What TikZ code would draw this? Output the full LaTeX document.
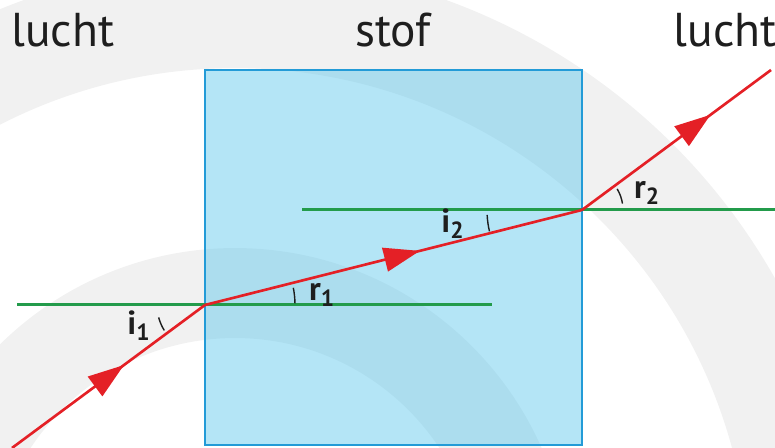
\documentclass[tikz,border=0pt]{standalone}
\usepackage{fontspec}
\setmainfont{PT Sans}
\usetikzlibrary{arrows.meta,decorations.markings}

\definecolor{fondgris}{RGB}{241,241,241}
\definecolor{stofblauw}{RGB}{96,200,236}
\definecolor{randblauw}{RGB}{35,155,215}
\definecolor{straalrood}{RGB}{228,32,38}
\definecolor{normgroen}{RGB}{35,155,75}
\definecolor{tekst}{RGB}{30,30,30}

\tikzset{
  ray/.style={draw=straalrood, line width=1.5pt, postaction={decorate},
    decoration={markings, mark=at position #1 with
      {\arrow{Triangle[length=0.72cm, width=0.48cm]}}}},
  normline/.style={draw=normgroen, line width=1.7pt},
  anglearc/.style={draw=tekst, line width=0.8pt},
  medium/.style={text=tekst, font=\fontsize{27}{30}\selectfont, anchor=base},
  hoeklabel/.style={text=tekst, font=\fontsize{19}{22}\selectfont\bfseries, inner sep=0pt}
}

\begin{document}
\begin{tikzpicture}[x=0.02cm, y=0.02cm]

\useasboundingbox (0,0) rectangle (775,448);

% Achtergrond
\begin{scope}
\clip (0,0) rectangle (775,448);
\fill[fondgris, even odd rule]
(235,-135) circle (12.4cm)
(235,-135) circle (10.3cm);
\fill[fondgris, even odd rule]
(235,-135) circle (6.7cm)
(235,-135) circle (4.9cm);
\end{scope}

% Stof
\draw[randblauw, line width=1.4pt, fill=stofblauw, fill opacity=0.47]
(205,3)
rectangle
(582,378);

\node[medium] (luchtL) at (63,401) {lucht};
\node[medium] (stof) at (393,401) {stof};
\node[medium] (luchtR) at (725,401) {lucht};

% Punten
\coordinate (S) at (12,0);
\coordinate (P1) at (205,143);
\coordinate (P2) at (582,238);
\coordinate (E) at (771,378);

\coordinate (N1a) at (17,143);
\coordinate (N1b) at (492,143);
\coordinate (N2a) at (302,238);
\coordinate (N2b) at (775,238);

% Normalen
\draw[normline]
(N1a)
--
(N1b);

\draw[normline]
(N2a)
--
(N2b);

% Lichtstraal
\draw[ray=0.58]
(S)
--
(P1);

\draw[ray=0.57]
(P1)
--
(P2);

\draw[ray=0.68]
(P2)
--
(E);

% Hoeken
\draw[anglearc] (P1) ++(195:0.96cm) arc[start angle=195, end angle=212, radius=0.96cm];
\draw[anglearc] (P1) ++(1:1.8cm) arc[start angle=1, end angle=11, radius=1.8cm];
\draw[anglearc] (P2) ++(183:1.9cm) arc[start angle=183, end angle=193, radius=1.9cm];
\draw[anglearc] (P2) ++(9:0.82cm) arc[start angle=9, end angle=31, radius=0.82cm];

\node[hoeklabel] (i1) at (139,122) {i\textsubscript{1}};
\node[hoeklabel] (r1) at (322,153) {r\textsubscript{1}};
\node[hoeklabel] (i2) at (453,224) {i\textsubscript{2}};
\node[hoeklabel] (r2) at (647,255) {r\textsubscript{2}};

\end{tikzpicture}
\end{document}
